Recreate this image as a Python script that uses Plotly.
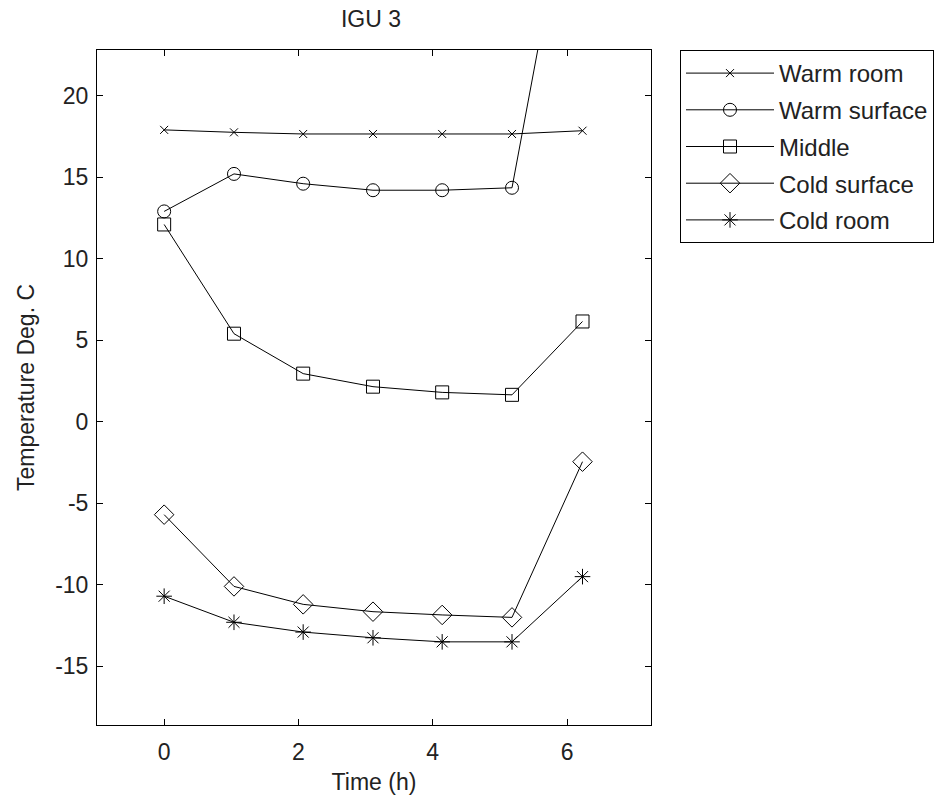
import plotly.graph_objects as go

time_h = [0, 1.04, 2.07, 3.11, 4.14, 5.18, 6.23]
warm_room = [17.9, 17.75, 17.65, 17.65, 17.65, 17.65, 17.85]
warm_surface = [12.9, 15.2, 14.6, 14.2, 14.2, 14.35, 37.5]
middle = [12.1, 5.4, 2.95, 2.15, 1.8, 1.65, 6.15]
cold_surface = [-5.7, -10.1, -11.2, -11.65, -11.85, -12.0, -2.45]
cold_room = [-10.7, -12.3, -12.9, -13.25, -13.5, -13.5, -9.5]

x_ticks = [0, 2, 4, 6]
x_ticklabels = ["0", "2", "4", "6"]
y_ticks = [-15, -10, -5, 0, 5, 10, 15, 20]
y_ticklabels = ["-15", "-10", "-5", "0", "5", "10", "15", "20"]

series = [
    ("Warm room", warm_room, "x-thin-open", 8),
    ("Warm surface", warm_surface, "circle-open", 13),
    ("Middle", middle, "square-open", 13),
    ("Cold surface", cold_surface, "diamond-open", 15),
    ("Cold room", cold_room, "asterisk-open", 13),
]

fig = go.Figure()
for i, (name, vals, sym, sz) in enumerate(series):
    fig.add_trace(go.Scatter(
        x=time_h, y=vals, name=name, mode="lines+markers",
        line=dict(color="black", width=1),
        marker=dict(symbol=sym, size=sz, color="black", line=dict(color="black", width=1)),
        legendgroup=f"g{i}",
    ))

FONT = "Liberation Sans, Arial, sans-serif"
FS = 23
TXT = "#222"
axis_common = dict(
    showline=True, linecolor="black", linewidth=1, mirror="ticks",
    ticks="inside", ticklen=6, tickcolor="black", showgrid=False, zeroline=False,
    tickfont=dict(family=FONT, size=FS, color=TXT), automargin=False,
)
fig.update_xaxes(range=[-1.0, 7.25], tickvals=x_ticks, ticktext=x_ticklabels,
                 ticklabelstandoff=6,
                 title=dict(text="Time (h)", font=dict(family=FONT, size=FS, color=TXT), standoff=10),
                 **axis_common)
fig.update_yaxes(range=[-18.6, 22.8], tickvals=y_ticks, ticktext=y_ticklabels,
                 ticklabelstandoff=3,
                 title=dict(text="Temperature Deg. C", font=dict(family=FONT, size=FS, color=TXT), standoff=14),
                 **axis_common)

fig.update_layout(
    width=946, height=800,
    margin=dict(l=97, r=295, t=50, b=75),
    plot_bgcolor="white", paper_bgcolor="white",
    title=dict(text="IGU 3", x=371 / 946, xanchor="center", y=1 - 19 / 800, yanchor="middle",
               font=dict(family=FONT, size=FS, color=TXT)),
    legend=dict(x=(680 - 97) / 554, y=1.0, xanchor="left", yanchor="top",
                bordercolor="black", borderwidth=1, bgcolor="white",
                font=dict(family=FONT, size=24, color=TXT),
                itemwidth=88,
                traceorder="grouped", tracegroupgap=2.5),
    font=dict(family=FONT),
)

fig.write_html("out.html")
